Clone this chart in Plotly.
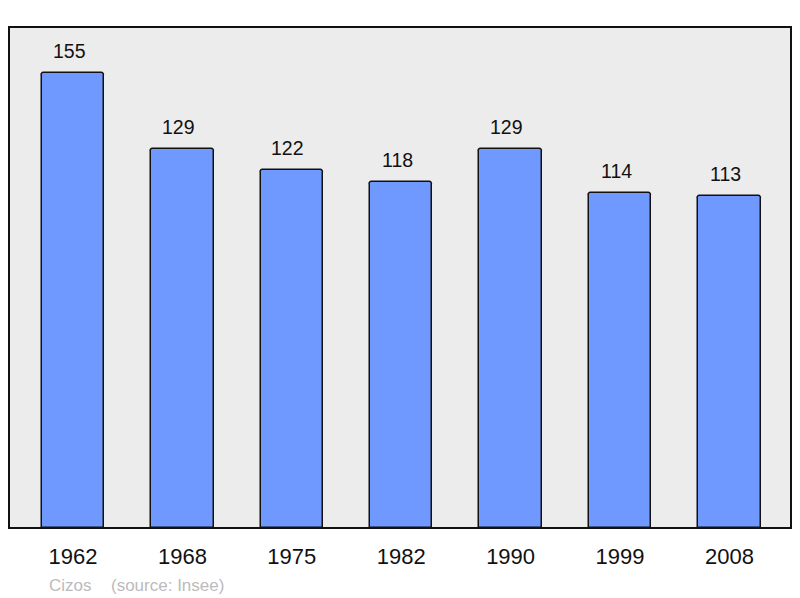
import plotly.graph_objects as go

years = ["1962", "1968", "1975", "1982", "1990", "1999", "2008"]
population = [155, 129, 122, 118, 129, 114, 113]
commune = "Cizos"
source = "(source: Insee)"

xs = list(range(len(years)))
FONT = "Liberation Sans, Arial, sans-serif"

fig = go.Figure()
fig.add_trace(go.Bar(
    x=xs, y=population, width=0.57,
    marker=dict(color="#7099ff", line=dict(color="#111111", width=1.5), cornerradius=3),
    hoverinfo="skip",
))

for x, v in zip(xs, population):
    fig.add_annotation(x=x, y=v, text=str(v), showarrow=False, yanchor="bottom",
                       yshift=9, xshift=-4, font=dict(size=19.5, color="#111111", family=FONT))

fig.add_annotation(xref="paper", yref="paper", x=(47 - 9)/782, y=-0.114, xanchor="left",
                   yanchor="middle", text=commune, showarrow=False,
                   font=dict(size=17, color="#bbbbbb", family=FONT))
fig.add_annotation(xref="paper", yref="paper", x=(109 - 9)/782, y=-0.114, xanchor="left",
                   yanchor="middle", text=source, showarrow=False,
                   font=dict(size=17, color="#bbbbbb", family=FONT))

fig.add_shape(type="rect", xref="paper", yref="paper", x0=0, y0=0, x1=1, y1=1,
              line=dict(color="#111111", width=2), layer="above")

fig.update_layout(
    width=800, height=598,
    margin=dict(l=9, r=9, t=27, b=70),
    paper_bgcolor="white", plot_bgcolor="#ececec",
    showlegend=False,
    bargap=0,
    xaxis=dict(range=[-0.585, 6.563], tickmode="array", tickvals=xs, ticktext=years,
               showgrid=False, zeroline=False, ticks="", showline=False,
               tickfont=dict(size=22, color="#111111", family=FONT),
               ticklabelstandoff=13, fixedrange=True),
    yaxis=dict(range=[0, 170.7], showgrid=False, zeroline=False, showticklabels=False,
               ticks="", showline=False, fixedrange=True),
)

fig.write_html("out.html", config={"displayModeBar": False})
with open("out.html", encoding="utf-8") as f:
    html = f.read()
html = html.replace("<body>", '<body style="margin:0;overflow:hidden">', 1)
with open("out.html", "w", encoding="utf-8") as f:
    f.write(html)
